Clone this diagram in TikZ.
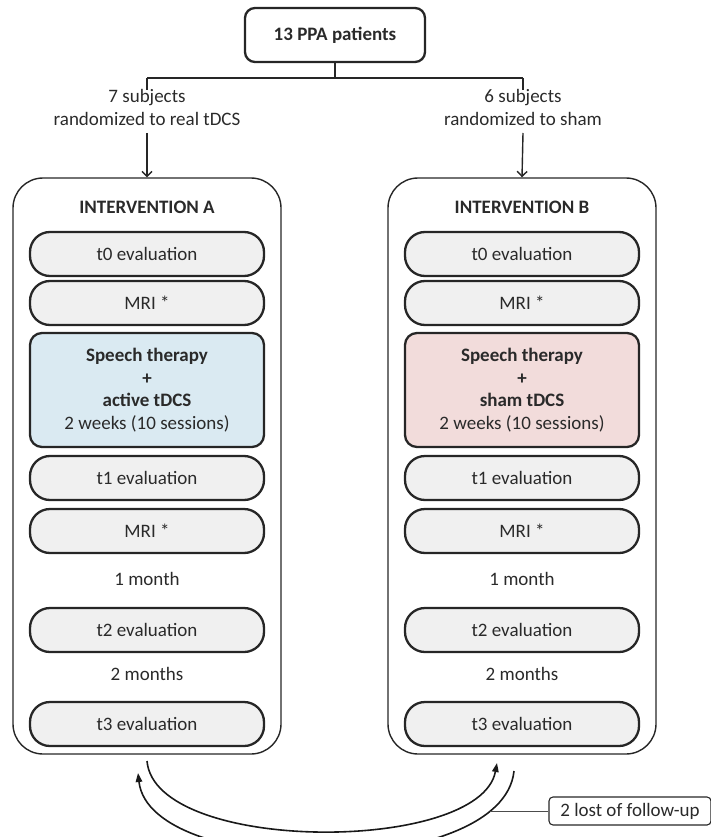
\documentclass[tikz,border=0pt]{standalone}
\usepackage{fontspec}
\setmainfont{Carlito}
\usetikzlibrary{arrows.meta}
\definecolor{evgray}{HTML}{F0F0F0}
\definecolor{blueF}{HTML}{DAEAF2}
\definecolor{pinkF}{HTML}{F2DCDB}
\definecolor{txt}{HTML}{2A2A2A}
\begin{document}
\begin{tikzpicture}[x=1pt,y=-1pt,
  every node/.style={text=txt},
  fs/.style={font=\fontsize{19}{23}\selectfont},
  ev/.style={draw=black!85, line width=2.3pt, rounded corners=20pt, fill=evgray,
    minimum width=234pt, minimum height=44pt, inner sep=0pt, fs},
  sp/.style={draw=black!85, line width=2.3pt, rounded corners=12pt,
    minimum width=234pt, minimum height=114pt, inner sep=0pt, align=center,
    font=\fontsize{19}{22.5}\selectfont},
  panel/.style={draw=black!85, line width=1.4pt, rounded corners=30pt,
    minimum width=268pt, minimum height=576pt, inner sep=0pt},
  plain/.style={inner sep=0pt, fs},
  conn/.style={draw=black!85, line width=1.4pt},
  darr/.style={conn, -{Straight Barb[length=5pt,width=10pt,line width=1.4pt]}},
  carr/.style={draw=black!90, line width=1.6pt, -{Triangle[length=9pt,width=6.5pt]}}
]
\useasboundingbox (0,0) rectangle (711,837);
\clip (0,0) rectangle (711,837);

% top
\node[draw=black!85, line width=2.3pt, rounded corners=10pt, minimum width=180pt, minimum height=54pt, inner sep=0pt, font=\fontsize{19}{22}\selectfont\bfseries] (top) at (335,35) {13 PPA patients};
\coordinate (jn) at (335,78);
\coordinate (jl) at (147,78);
\coordinate (jr) at (523,78);
\coordinate (dl) at (147,90);
\coordinate (dr) at (523,90);
\node[plain, align=center] (labA) at (147,107) {7 subjects\\randomized to real tDCS};
\node[plain, align=center] (labB) at (523,107) {6 subjects\\randomized to sham};

% panels
\node[panel] (pA) at (147,466) {};
\node[panel] (pB) at (522,466) {};

\draw[conn] (top.south) -- (jn) (jl) -- (jr) (jl) -- (dl) (jr) -- (dr);
\coordinate (sa) at (147,133);
\coordinate (sb) at (523,133);
\draw[darr] (sa) -- (pA.north);
\draw[darr] (sb) -- (pB.north);

% panel A
\node[plain, font=\fontsize{19}{22}\selectfont\bfseries] (hA) at (147,207) {INTERVENTION A};
\node[ev] (a0) at (147,254) {t0 evaluation};
\node[ev] (a1) at (147,303) {MRI *};
\node[sp, fill=blueF] (a2) at (147,390) {\textbf{Speech therapy}\\\textbf{+}\\\textbf{active tDCS}\\2 weeks (10 sessions)};
\node[ev] (a3) at (147,478) {t1 evaluation};
\node[ev] (a4) at (147,531) {MRI *};
\node[plain] (a5) at (147,579) {1 month};
\node[ev] (a6) at (147,630) {t2 evaluation};
\node[plain] (a7) at (147,674) {2 months};
\node[ev] (a8) at (147,724) {t3 evaluation};

% panel B
\node[plain, font=\fontsize{19}{22}\selectfont\bfseries] (hB) at (522,207) {INTERVENTION B};
\node[ev] (b0) at (522,254) {t0 evaluation};
\node[ev] (b1) at (522,303) {MRI *};
\node[sp, fill=pinkF] (b2) at (522,390) {\textbf{Speech therapy}\\\textbf{+}\\\textbf{sham tDCS}\\2 weeks (10 sessions)};
\node[ev] (b3) at (522,478) {t1 evaluation};
\node[ev] (b4) at (522,531) {MRI *};
\node[plain] (b5) at (522,579) {1 month};
\node[ev] (b6) at (522,630) {t2 evaluation};
\node[plain] (b7) at (522,674) {2 months};
\node[ev] (b8) at (522,724) {t3 evaluation};

% arcs
\coordinate (i0) at (147,761);
\coordinate (i1) at (497,763);
\coordinate (o0) at (514,771);
\coordinate (o1) at (138,773);
\draw[carr] (i0) .. controls (155,854) and (480,854) .. (i1);
\draw[carr] (o0) .. controls (503,880) and (150,880) .. (o1);

% lost label
\node[draw=black!85, line width=1.1pt, rounded corners=4pt, minimum width=162pt, minimum height=28pt, inner sep=0pt, font=\fontsize{19}{21}\selectfont] (lost) at (630,811) {2 lost of follow-up};
\coordinate (lj) at (490,811);
\draw[draw=black!70, line width=1pt] (lj) -- (lost.west);
\end{tikzpicture}
\end{document}
